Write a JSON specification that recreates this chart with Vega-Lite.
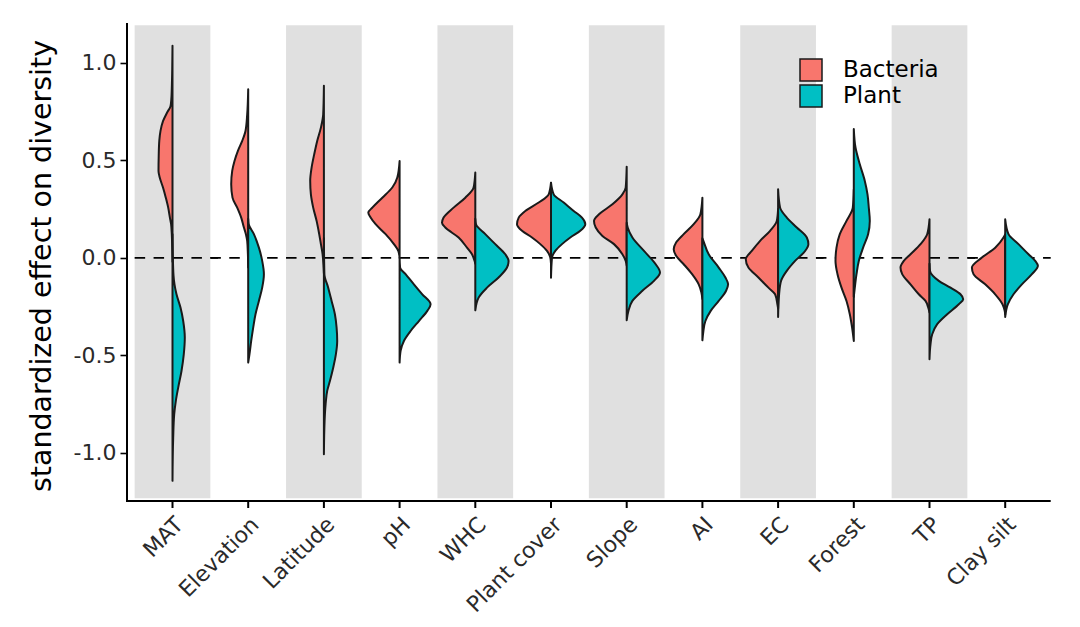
{
  "$schema": "https://vega.github.io/schema/vega-lite/v6.json",
  "padding": {"left": 27, "top": 22, "right": 5, "bottom": 5},
  "background": "white",
  "bounds": "flush",
  "config": {"view": {"stroke": null}, "font": "DejaVu Sans"},
  "data": {"values": [
    {"c":"MAT","g":"Bacteria","v":1.086,"d":0},{"c":"MAT","g":"Bacteria","v":0.96,"d":0.03},{"c":"MAT","g":"Bacteria","v":0.87,"d":0.07},{"c":"MAT","g":"Bacteria","v":0.81,"d":0.12},{"c":"MAT","g":"Bacteria","v":0.777,"d":0.2},{"c":"MAT","g":"Bacteria","v":0.743,"d":0.55},{"c":"MAT","g":"Bacteria","v":0.70,"d":0.95},{"c":"MAT","g":"Bacteria","v":0.65,"d":1.2},{"c":"MAT","g":"Bacteria","v":0.60,"d":1.32},{"c":"MAT","g":"Bacteria","v":0.52,"d":1.38},{"c":"MAT","g":"Bacteria","v":0.445,"d":1.4},{"c":"MAT","g":"Bacteria","v":0.41,"d":1.27},{"c":"MAT","g":"Bacteria","v":0.36,"d":0.95},{"c":"MAT","g":"Bacteria","v":0.308,"d":0.67},{"c":"MAT","g":"Bacteria","v":0.257,"d":0.43},{"c":"MAT","g":"Bacteria","v":0.206,"d":0.26},{"c":"MAT","g":"Bacteria","v":0.172,"d":0.14},{"c":"MAT","g":"Bacteria","v":0.12,"d":0.07},{"c":"MAT","g":"Bacteria","v":0.05,"d":0.03},{"c":"MAT","g":"Bacteria","v":-0.02,"d":0},
    {"c":"MAT","g":"Plant","v":0.12,"d":0},{"c":"MAT","g":"Plant","v":0.02,"d":0.03},{"c":"MAT","g":"Plant","v":-0.09,"d":0.1},{"c":"MAT","g":"Plant","v":-0.136,"d":0.2},{"c":"MAT","g":"Plant","v":-0.187,"d":0.4},{"c":"MAT","g":"Plant","v":-0.255,"d":0.8},{"c":"MAT","g":"Plant","v":-0.324,"d":1.07},{"c":"MAT","g":"Plant","v":-0.409,"d":1.23},{"c":"MAT","g":"Plant","v":-0.494,"d":1.13},{"c":"MAT","g":"Plant","v":-0.58,"d":0.9},{"c":"MAT","g":"Plant","v":-0.665,"d":0.57},{"c":"MAT","g":"Plant","v":-0.734,"d":0.33},{"c":"MAT","g":"Plant","v":-0.802,"d":0.17},{"c":"MAT","g":"Plant","v":-0.921,"d":0.07},{"c":"MAT","g":"Plant","v":-1.143,"d":0},
    {"c":"Elevation","g":"Bacteria","v":0.864,"d":0},{"c":"Elevation","g":"Bacteria","v":0.735,"d":0.1},{"c":"Elevation","g":"Bacteria","v":0.65,"d":0.27},{"c":"Elevation","g":"Bacteria","v":0.599,"d":0.6},{"c":"Elevation","g":"Bacteria","v":0.548,"d":1.03},{"c":"Elevation","g":"Bacteria","v":0.496,"d":1.37},{"c":"Elevation","g":"Bacteria","v":0.445,"d":1.6},{"c":"Elevation","g":"Bacteria","v":0.377,"d":1.7},{"c":"Elevation","g":"Bacteria","v":0.308,"d":1.57},{"c":"Elevation","g":"Bacteria","v":0.257,"d":1.1},{"c":"Elevation","g":"Bacteria","v":0.206,"d":0.7},{"c":"Elevation","g":"Bacteria","v":0.155,"d":0.43},{"c":"Elevation","g":"Bacteria","v":0.121,"d":0.23},{"c":"Elevation","g":"Bacteria","v":0.086,"d":0.1},{"c":"Elevation","g":"Bacteria","v":0.018,"d":0.03},{"c":"Elevation","g":"Bacteria","v":-0.05,"d":0},
    {"c":"Elevation","g":"Plant","v":0.2,"d":0},{"c":"Elevation","g":"Plant","v":0.172,"d":0.05},{"c":"Elevation","g":"Plant","v":0.121,"d":0.57},{"c":"Elevation","g":"Plant","v":0.052,"d":1.07},{"c":"Elevation","g":"Plant","v":-0.016,"d":1.4},{"c":"Elevation","g":"Plant","v":-0.084,"d":1.57},{"c":"Elevation","g":"Plant","v":-0.153,"d":1.4},{"c":"Elevation","g":"Plant","v":-0.221,"d":1.07},{"c":"Elevation","g":"Plant","v":-0.289,"d":0.73},{"c":"Elevation","g":"Plant","v":-0.358,"d":0.5},{"c":"Elevation","g":"Plant","v":-0.426,"d":0.3},{"c":"Elevation","g":"Plant","v":-0.494,"d":0.13},{"c":"Elevation","g":"Plant","v":-0.537,"d":0},
    {"c":"Latitude","g":"Bacteria","v":0.881,"d":0},{"c":"Latitude","g":"Bacteria","v":0.735,"d":0.07},{"c":"Latitude","g":"Bacteria","v":0.667,"d":0.3},{"c":"Latitude","g":"Bacteria","v":0.599,"d":0.67},{"c":"Latitude","g":"Bacteria","v":0.53,"d":0.97},{"c":"Latitude","g":"Bacteria","v":0.462,"d":1.23},{"c":"Latitude","g":"Bacteria","v":0.394,"d":1.37},{"c":"Latitude","g":"Bacteria","v":0.325,"d":1.3},{"c":"Latitude","g":"Bacteria","v":0.257,"d":1.07},{"c":"Latitude","g":"Bacteria","v":0.189,"d":0.73},{"c":"Latitude","g":"Bacteria","v":0.121,"d":0.47},{"c":"Latitude","g":"Bacteria","v":0.07,"d":0.3},{"c":"Latitude","g":"Bacteria","v":0.018,"d":0.13},{"c":"Latitude","g":"Bacteria","v":-0.05,"d":0.03},{"c":"Latitude","g":"Bacteria","v":-0.08,"d":0},
    {"c":"Latitude","g":"Plant","v":0.1,"d":0},{"c":"Latitude","g":"Plant","v":-0.084,"d":0.05},{"c":"Latitude","g":"Plant","v":-0.153,"d":0.43},{"c":"Latitude","g":"Plant","v":-0.221,"d":0.77},{"c":"Latitude","g":"Plant","v":-0.289,"d":1.1},{"c":"Latitude","g":"Plant","v":-0.358,"d":1.27},{"c":"Latitude","g":"Plant","v":-0.426,"d":1.33},{"c":"Latitude","g":"Plant","v":-0.494,"d":1.2},{"c":"Latitude","g":"Plant","v":-0.563,"d":0.93},{"c":"Latitude","g":"Plant","v":-0.631,"d":0.6},{"c":"Latitude","g":"Plant","v":-0.682,"d":0.33},{"c":"Latitude","g":"Plant","v":-0.751,"d":0.17},{"c":"Latitude","g":"Plant","v":-0.836,"d":0.07},{"c":"Latitude","g":"Plant","v":-1.007,"d":0},
    {"c":"pH","g":"Bacteria","v":0.496,"d":0},{"c":"pH","g":"Bacteria","v":0.411,"d":0.23},{"c":"pH","g":"Bacteria","v":0.36,"d":0.73},{"c":"pH","g":"Bacteria","v":0.308,"d":1.73},{"c":"pH","g":"Bacteria","v":0.257,"d":2.73},{"c":"pH","g":"Bacteria","v":0.232,"d":3.13},{"c":"pH","g":"Bacteria","v":0.206,"d":2.9},{"c":"pH","g":"Bacteria","v":0.172,"d":2.4},{"c":"pH","g":"Bacteria","v":0.121,"d":1.4},{"c":"pH","g":"Bacteria","v":0.07,"d":0.57},{"c":"pH","g":"Bacteria","v":0.035,"d":0.13},{"c":"pH","g":"Bacteria","v":0.0,"d":0},
    {"c":"pH","g":"Plant","v":0.0,"d":0},{"c":"pH","g":"Plant","v":-0.05,"d":0.05},{"c":"pH","g":"Plant","v":-0.084,"d":0.6},{"c":"pH","g":"Plant","v":-0.136,"d":1.43},{"c":"pH","g":"Plant","v":-0.187,"d":2.27},{"c":"pH","g":"Plant","v":-0.238,"d":3.1},{"c":"pH","g":"Plant","v":-0.272,"d":2.77},{"c":"pH","g":"Plant","v":-0.324,"d":1.93},{"c":"pH","g":"Plant","v":-0.375,"d":1.1},{"c":"pH","g":"Plant","v":-0.426,"d":0.43},{"c":"pH","g":"Plant","v":-0.477,"d":0.1},{"c":"pH","g":"Plant","v":-0.537,"d":0},
    {"c":"WHC","g":"Bacteria","v":0.437,"d":0},{"c":"WHC","g":"Bacteria","v":0.36,"d":0.17},{"c":"WHC","g":"Bacteria","v":0.308,"d":1.0},{"c":"WHC","g":"Bacteria","v":0.257,"d":2.17},{"c":"WHC","g":"Bacteria","v":0.206,"d":3.17},{"c":"WHC","g":"Bacteria","v":0.18,"d":3.33},{"c":"WHC","g":"Bacteria","v":0.155,"d":3.0},{"c":"WHC","g":"Bacteria","v":0.104,"d":1.67},{"c":"WHC","g":"Bacteria","v":0.052,"d":0.83},{"c":"WHC","g":"Bacteria","v":0.018,"d":0.33},{"c":"WHC","g":"Bacteria","v":-0.016,"d":0.07},{"c":"WHC","g":"Bacteria","v":-0.03,"d":0},
    {"c":"WHC","g":"Plant","v":0.2,"d":0},{"c":"WHC","g":"Plant","v":0.172,"d":0.07},{"c":"WHC","g":"Plant","v":0.121,"d":1.0},{"c":"WHC","g":"Plant","v":0.07,"d":2.0},{"c":"WHC","g":"Plant","v":0.018,"d":3.0},{"c":"WHC","g":"Plant","v":-0.016,"d":3.33},{"c":"WHC","g":"Plant","v":-0.05,"d":3.17},{"c":"WHC","g":"Plant","v":-0.101,"d":2.33},{"c":"WHC","g":"Plant","v":-0.153,"d":1.17},{"c":"WHC","g":"Plant","v":-0.204,"d":0.33},{"c":"WHC","g":"Plant","v":-0.269,"d":0},
    {"c":"Plant cover","g":"Bacteria","v":0.385,"d":0},{"c":"Plant cover","g":"Bacteria","v":0.325,"d":0.23},{"c":"Plant cover","g":"Bacteria","v":0.283,"d":1.23},{"c":"Plant cover","g":"Bacteria","v":0.24,"d":2.57},{"c":"Plant cover","g":"Bacteria","v":0.206,"d":3.23},{"c":"Plant cover","g":"Bacteria","v":0.172,"d":3.4},{"c":"Plant cover","g":"Bacteria","v":0.138,"d":2.9},{"c":"Plant cover","g":"Bacteria","v":0.104,"d":1.9},{"c":"Plant cover","g":"Bacteria","v":0.07,"d":1.07},{"c":"Plant cover","g":"Bacteria","v":0.035,"d":0.4},{"c":"Plant cover","g":"Bacteria","v":0.001,"d":0.07},{"c":"Plant cover","g":"Bacteria","v":-0.03,"d":0},
    {"c":"Plant cover","g":"Plant","v":0.385,"d":0},{"c":"Plant cover","g":"Plant","v":0.325,"d":0.27},{"c":"Plant cover","g":"Plant","v":0.283,"d":1.27},{"c":"Plant cover","g":"Plant","v":0.24,"d":2.27},{"c":"Plant cover","g":"Plant","v":0.206,"d":3.1},{"c":"Plant cover","g":"Plant","v":0.172,"d":3.43},{"c":"Plant cover","g":"Plant","v":0.138,"d":2.93},{"c":"Plant cover","g":"Plant","v":0.104,"d":1.93},{"c":"Plant cover","g":"Plant","v":0.07,"d":1.1},{"c":"Plant cover","g":"Plant","v":0.035,"d":0.43},{"c":"Plant cover","g":"Plant","v":0.001,"d":0.1},{"c":"Plant cover","g":"Plant","v":-0.102,"d":0},
    {"c":"Slope","g":"Bacteria","v":0.467,"d":0},{"c":"Slope","g":"Bacteria","v":0.36,"d":0.1},{"c":"Slope","g":"Bacteria","v":0.325,"d":0.43},{"c":"Slope","g":"Bacteria","v":0.274,"d":1.43},{"c":"Slope","g":"Bacteria","v":0.223,"d":2.77},{"c":"Slope","g":"Bacteria","v":0.189,"d":3.27},{"c":"Slope","g":"Bacteria","v":0.155,"d":3.1},{"c":"Slope","g":"Bacteria","v":0.112,"d":2.43},{"c":"Slope","g":"Bacteria","v":0.07,"d":1.27},{"c":"Slope","g":"Bacteria","v":0.018,"d":0.43},{"c":"Slope","g":"Bacteria","v":-0.016,"d":0.1},{"c":"Slope","g":"Bacteria","v":-0.04,"d":0},
    {"c":"Slope","g":"Plant","v":0.18,"d":0},{"c":"Slope","g":"Plant","v":0.155,"d":0.1},{"c":"Slope","g":"Plant","v":0.104,"d":0.57},{"c":"Slope","g":"Plant","v":0.035,"d":1.73},{"c":"Slope","g":"Plant","v":-0.033,"d":2.9},{"c":"Slope","g":"Plant","v":-0.075,"d":3.33},{"c":"Slope","g":"Plant","v":-0.118,"d":2.73},{"c":"Slope","g":"Plant","v":-0.169,"d":1.57},{"c":"Slope","g":"Plant","v":-0.221,"d":0.57},{"c":"Slope","g":"Plant","v":-0.272,"d":0.17},{"c":"Slope","g":"Plant","v":-0.32,"d":0},
    {"c":"AI","g":"Bacteria","v":0.308,"d":0},{"c":"AI","g":"Bacteria","v":0.223,"d":0.2},{"c":"AI","g":"Bacteria","v":0.172,"d":0.87},{"c":"AI","g":"Bacteria","v":0.121,"d":1.87},{"c":"AI","g":"Bacteria","v":0.078,"d":2.63},{"c":"AI","g":"Bacteria","v":0.044,"d":2.87},{"c":"AI","g":"Bacteria","v":0.01,"d":2.63},{"c":"AI","g":"Bacteria","v":-0.033,"d":1.87},{"c":"AI","g":"Bacteria","v":-0.084,"d":1.03},{"c":"AI","g":"Bacteria","v":-0.136,"d":0.37},{"c":"AI","g":"Bacteria","v":-0.178,"d":0.1},{"c":"AI","g":"Bacteria","v":-0.21,"d":0},
    {"c":"AI","g":"Plant","v":0.1,"d":0},{"c":"AI","g":"Plant","v":0.087,"d":0.1},{"c":"AI","g":"Plant","v":0.018,"d":0.63},{"c":"AI","g":"Plant","v":-0.05,"d":1.63},{"c":"AI","g":"Plant","v":-0.101,"d":2.3},{"c":"AI","g":"Plant","v":-0.136,"d":2.57},{"c":"AI","g":"Plant","v":-0.169,"d":2.37},{"c":"AI","g":"Plant","v":-0.221,"d":1.63},{"c":"AI","g":"Plant","v":-0.272,"d":0.83},{"c":"AI","g":"Plant","v":-0.324,"d":0.3},{"c":"AI","g":"Plant","v":-0.375,"d":0.1},{"c":"AI","g":"Plant","v":-0.423,"d":0},
    {"c":"EC","g":"Bacteria","v":0.25,"d":0},{"c":"EC","g":"Bacteria","v":0.189,"d":0.13},{"c":"EC","g":"Bacteria","v":0.138,"d":0.8},{"c":"EC","g":"Bacteria","v":0.087,"d":1.8},{"c":"EC","g":"Bacteria","v":0.035,"d":2.63},{"c":"EC","g":"Bacteria","v":-0.007,"d":3.23},{"c":"EC","g":"Bacteria","v":-0.05,"d":2.97},{"c":"EC","g":"Bacteria","v":-0.101,"d":1.97},{"c":"EC","g":"Bacteria","v":-0.153,"d":0.97},{"c":"EC","g":"Bacteria","v":-0.187,"d":0.3},{"c":"EC","g":"Bacteria","v":-0.238,"d":0.07},{"c":"EC","g":"Bacteria","v":-0.26,"d":0},
    {"c":"EC","g":"Plant","v":0.351,"d":0},{"c":"EC","g":"Plant","v":0.257,"d":0.2},{"c":"EC","g":"Plant","v":0.206,"d":0.87},{"c":"EC","g":"Plant","v":0.155,"d":1.87},{"c":"EC","g":"Plant","v":0.104,"d":2.87},{"c":"EC","g":"Plant","v":0.07,"d":3.03},{"c":"EC","g":"Plant","v":0.035,"d":2.7},{"c":"EC","g":"Plant","v":-0.016,"d":1.7},{"c":"EC","g":"Plant","v":-0.067,"d":0.87},{"c":"EC","g":"Plant","v":-0.118,"d":0.3},{"c":"EC","g":"Plant","v":-0.187,"d":0.1},{"c":"EC","g":"Plant","v":-0.303,"d":0},
    {"c":"Forest","g":"Bacteria","v":0.35,"d":0},{"c":"Forest","g":"Bacteria","v":0.257,"d":0.1},{"c":"Forest","g":"Bacteria","v":0.189,"d":0.73},{"c":"Forest","g":"Bacteria","v":0.121,"d":1.4},{"c":"Forest","g":"Bacteria","v":0.052,"d":1.73},{"c":"Forest","g":"Bacteria","v":-0.016,"d":1.83},{"c":"Forest","g":"Bacteria","v":-0.084,"d":1.63},{"c":"Forest","g":"Bacteria","v":-0.153,"d":1.23},{"c":"Forest","g":"Bacteria","v":-0.221,"d":0.73},{"c":"Forest","g":"Bacteria","v":-0.289,"d":0.4},{"c":"Forest","g":"Bacteria","v":-0.358,"d":0.17},{"c":"Forest","g":"Bacteria","v":-0.426,"d":0},
    {"c":"Forest","g":"Plant","v":0.66,"d":0},{"c":"Forest","g":"Plant","v":0.565,"d":0.17},{"c":"Forest","g":"Plant","v":0.479,"d":0.6},{"c":"Forest","g":"Plant","v":0.394,"d":1.1},{"c":"Forest","g":"Plant","v":0.325,"d":1.37},{"c":"Forest","g":"Plant","v":0.257,"d":1.5},{"c":"Forest","g":"Plant","v":0.189,"d":1.6},{"c":"Forest","g":"Plant","v":0.121,"d":1.43},{"c":"Forest","g":"Plant","v":0.052,"d":0.93},{"c":"Forest","g":"Plant","v":-0.016,"d":0.5},{"c":"Forest","g":"Plant","v":-0.084,"d":0.27},{"c":"Forest","g":"Plant","v":-0.153,"d":0.1},{"c":"Forest","g":"Plant","v":-0.2,"d":0},
    {"c":"TP","g":"Bacteria","v":0.197,"d":0},{"c":"TP","g":"Bacteria","v":0.121,"d":0.23},{"c":"TP","g":"Bacteria","v":0.07,"d":0.9},{"c":"TP","g":"Bacteria","v":0.018,"d":1.9},{"c":"TP","g":"Bacteria","v":-0.016,"d":2.57},{"c":"TP","g":"Bacteria","v":-0.05,"d":2.9},{"c":"TP","g":"Bacteria","v":-0.084,"d":2.73},{"c":"TP","g":"Bacteria","v":-0.136,"d":1.9},{"c":"TP","g":"Bacteria","v":-0.187,"d":1.07},{"c":"TP","g":"Bacteria","v":-0.221,"d":0.4},{"c":"TP","g":"Bacteria","v":-0.255,"d":0.13},{"c":"TP","g":"Bacteria","v":-0.28,"d":0},
    {"c":"TP","g":"Plant","v":-0.03,"d":0},{"c":"TP","g":"Plant","v":-0.067,"d":0.05},{"c":"TP","g":"Plant","v":-0.118,"d":0.93},{"c":"TP","g":"Plant","v":-0.153,"d":2.1},{"c":"TP","g":"Plant","v":-0.187,"d":3.1},{"c":"TP","g":"Plant","v":-0.212,"d":3.37},{"c":"TP","g":"Plant","v":-0.238,"d":2.93},{"c":"TP","g":"Plant","v":-0.289,"d":1.77},{"c":"TP","g":"Plant","v":-0.34,"d":0.77},{"c":"TP","g":"Plant","v":-0.392,"d":0.27},{"c":"TP","g":"Plant","v":-0.443,"d":0.1},{"c":"TP","g":"Plant","v":-0.52,"d":0},
    {"c":"Clay silt","g":"Bacteria","v":0.12,"d":0},{"c":"Clay silt","g":"Bacteria","v":0.104,"d":0.17},{"c":"Clay silt","g":"Bacteria","v":0.052,"d":1.0},{"c":"Clay silt","g":"Bacteria","v":0.001,"d":2.33},{"c":"Clay silt","g":"Bacteria","v":-0.05,"d":3.33},{"c":"Clay silt","g":"Bacteria","v":-0.084,"d":3.17},{"c":"Clay silt","g":"Bacteria","v":-0.136,"d":2.0},{"c":"Clay silt","g":"Bacteria","v":-0.187,"d":1.0},{"c":"Clay silt","g":"Bacteria","v":-0.238,"d":0.27},{"c":"Clay silt","g":"Bacteria","v":-0.272,"d":0.05},{"c":"Clay silt","g":"Bacteria","v":-0.29,"d":0},
    {"c":"Clay silt","g":"Plant","v":0.197,"d":0},{"c":"Clay silt","g":"Plant","v":0.121,"d":0.33},{"c":"Clay silt","g":"Plant","v":0.07,"d":1.33},{"c":"Clay silt","g":"Plant","v":0.018,"d":2.33},{"c":"Clay silt","g":"Plant","v":-0.016,"d":3.0},{"c":"Clay silt","g":"Plant","v":-0.041,"d":3.27},{"c":"Clay silt","g":"Plant","v":-0.084,"d":2.67},{"c":"Clay silt","g":"Plant","v":-0.136,"d":1.67},{"c":"Clay silt","g":"Plant","v":-0.187,"d":0.83},{"c":"Clay silt","g":"Plant","v":-0.238,"d":0.27},{"c":"Clay silt","g":"Plant","v":-0.303,"d":0}
  ]},
  "facet": {
    "column": {
      "field": "c", "type": "nominal", "title": null,
      "sort": ["MAT","Elevation","Latitude","pH","WHC","Plant cover","Slope","AI","EC","Forest","TP","Clay silt"],
      "header": {"labelOrient": "bottom", "labelAngle": -45, "labelAlign": "right", "labelBaseline": "top", "labelFontSize": 22, "labelFont": "DejaVu Sans", "labelColor": "#2a2a2a", "labelPadding": 6}
    }
  },
  "spacing": -15.3,
  "resolve": {"scale": {"x": "independent"}},
  "spec": {
    "width": 91, "height": 485,
    "resolve": {"scale": {"x": "independent"}},
    "layer": [
      {
        "transform": [
          {"filter": {"field": "c", "oneOf": ["MAT","Latitude","WHC","Slope","EC","TP"]}},
          {"aggregate": [{"op": "count", "as": "n"}], "groupby": ["c"]}
        ],
        "mark": {"type": "rect", "color": "#E0E0E0"},
        "encoding": {
          "x": {"datum": -3.785, "type": "quantitative", "scale": {"domain": [-4.55, 4.55]}, "axis": null},
          "x2": {"datum": 3.785},
          "y": {"datum": -1.232, "type": "quantitative", "scale": {"domain": [-1.282, 1.203], "nice": false, "zero": false}},
          "y2": {"datum": 1.192}
        }
      },
      {
        "transform": [{"aggregate": [{"op": "count", "as": "n"}], "groupby": ["c"]}],
        "mark": {"type": "rule", "color": "black", "strokeWidth": 1.8, "strokeDash": [10.5, 8.425]},
        "encoding": {
          "x": {"datum": -3.785, "type": "quantitative", "scale": {"domain": [-4.55, 4.55]}, "axis": null},
          "x2": {"datum": 4.55},
          "y": {"datum": 0, "type": "quantitative"}
        }
      },
      {
        "transform": [{"aggregate": [{"op": "count", "as": "n"}], "groupby": ["c"]}],
        "mark": {"type": "rule", "color": "black", "strokeWidth": 2},
        "encoding": {
          "x": {"datum": -4.55, "type": "quantitative", "scale": {"domain": [-4.55, 4.55]}, "axis": null},
          "x2": {"datum": 4.55},
          "y": {"datum": -1.246, "type": "quantitative"}
        }
      },
      {
        "transform": [{"aggregate": [{"op": "count", "as": "n"}], "groupby": ["c"]}],
        "mark": {"type": "rule", "color": "black", "strokeWidth": 2},
        "encoding": {
          "x": {"datum": 0, "type": "quantitative", "scale": {"domain": [-4.55, 4.55]}, "axis": null},
          "y": {"datum": -1.246, "type": "quantitative"},
          "y2": {"datum": -1.282}
        }
      },
      {
        "transform": [
          {"filter": {"field": "c", "equal": "MAT"}},
          {"aggregate": [{"op": "count", "as": "n"}], "groupby": ["c"]}
        ],
        "mark": {"type": "rule", "color": "black", "strokeWidth": 2},
        "encoding": {
          "x": {"datum": -4.55, "type": "quantitative", "scale": {"domain": [-4.55, 4.55]}, "axis": null},
          "y": {"datum": -1.251, "type": "quantitative"},
          "y2": {"datum": 1.203}
        }
      },
      {
        "transform": [{"filter": "datum.g === 'Bacteria'"}],
        "mark": {"type": "area", "orient": "horizontal", "interpolate": "monotone", "stroke": "#1a1a1a", "strokeWidth": 2, "strokeJoin": "round"},
        "encoding": {
          "y": {"field": "v", "type": "quantitative"},
          "x": {"field": "d", "type": "quantitative", "scale": {"domain": [-4.55, 4.55], "reverse": true}, "axis": null},
          "fill": {"field": "g", "type": "nominal", "scale": {"domain": ["Bacteria", "Plant"], "range": ["#F8766D", "#00BFC4"]}, "legend": {"orient": "none", "legendX": 672, "legendY": 35, "title": null, "symbolType": "square", "symbolSize": 484, "symbolStrokeColor": "black", "symbolStrokeWidth": 1.5, "symbolOpacity": 1, "labelFontSize": 23, "labelFont": "DejaVu Sans", "labelColor": "black", "rowPadding": -4.5, "labelOffset": 20}}
        }
      },
      {
        "transform": [{"filter": "datum.g === 'Plant'"}],
        "mark": {"type": "area", "orient": "horizontal", "interpolate": "monotone", "stroke": "#1a1a1a", "strokeWidth": 2, "strokeJoin": "round"},
        "encoding": {
          "y": {"field": "v", "type": "quantitative", "axis": {"title": "standardized effect on diversity", "titleFontSize": 28.5, "titleFont": "DejaVu Sans", "titleFontWeight": "normal", "titleColor": "black", "titlePadding": 17, "labelFontSize": 22, "labelFont": "DejaVu Sans", "labelColor": "#2a2a2a", "labelPadding": 4, "values": [-1, -0.5, 0, 0.5, 1], "format": ".1f", "labelExpr": "replace(datum.label, '−', '-')", "tickColor": "black", "tickWidth": 1.6, "tickSize": 7, "domain": false, "grid": false}},
          "x": {"field": "d", "type": "quantitative", "scale": {"domain": [-4.55, 4.55]}, "axis": null},
          "fill": {"field": "g", "type": "nominal"}
        }
      }
    ]
  }
}
